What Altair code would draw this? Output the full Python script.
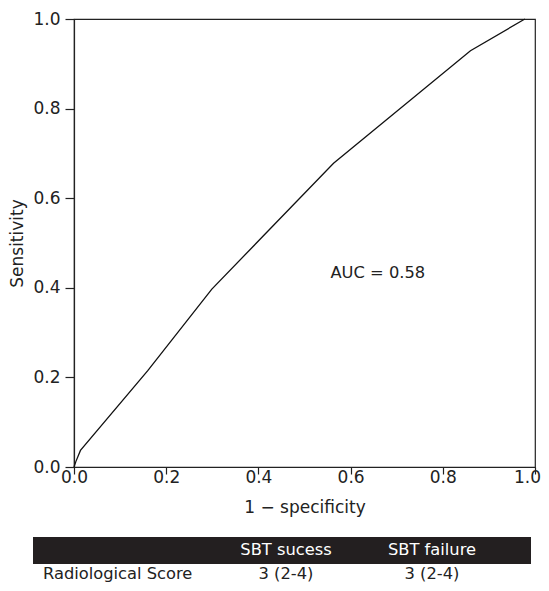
import altair as alt
import pandas as pd

# ROC curve points (1 - specificity, sensitivity)
fpr = [0.0, 0.004, 0.014, 0.16, 0.299, 0.563, 0.860, 0.978]
tpr = [0.0, 0.012, 0.037, 0.215, 0.397, 0.678, 0.929, 1.0]

auc_label = "AUC = 0.58"
auc_pos = [0.659, 0.432]

table_header = ["", "SBT sucess", "SBT failure"]
table_row = ["Radiological Score", "3 (2-4)", "3 (2-4)"]

FONT = "DejaVu Sans"
FS = 17
TFS = 16.3
INK = "#222222"

roc = pd.DataFrame({"fpr": fpr, "tpr": tpr, "order": list(range(len(fpr)))})

xscale = alt.Scale(domain=[0, 1], nice=False, zero=False)
yscale = alt.Scale(domain=[0, 1], nice=False, zero=False)

line = alt.Chart(roc).mark_line(color="#111111", strokeWidth=1.3).encode(
    x=alt.X("fpr:Q", scale=xscale, title="1 \u2212 specificity",
            axis=alt.Axis(values=[0, 0.2, 0.4, 0.6, 0.8, 1.0], format=".1f",
                          tickSize=7, labelPadding=-5, titlePadding=14,
                          labelOffset=alt.condition("datum.value >= 1", alt.value(-8), alt.value(0)),
                          grid=False)),
    y=alt.Y("tpr:Q", scale=yscale, title="Sensitivity",
            axis=alt.Axis(values=[0, 0.2, 0.4, 0.6, 0.8, 1.0], format=".1f",
                          tickSize=9, labelPadding=5, titlePadding=6,
                          grid=False)),
    order="order:Q",
)

auc = alt.Chart(pd.DataFrame({"x": [auc_pos[0]], "y": [auc_pos[1]], "t": [auc_label]})).mark_text(
    font=FONT, fontSize=TFS, color=INK, align="center", baseline="middle"
).encode(x=alt.X("x:Q", scale=xscale), y=alt.Y("y:Q", scale=yscale), text="t:N")

band = alt.Chart(pd.DataFrame({"a": [0]})).mark_rect(color="#231f20").encode(
    x=alt.value(-41), x2=alt.value(457), y=alt.value(518), y2=alt.value(545)
)

col_x = [-31, 212, 358]
layers = [line, auc, band]
for i, (h, r) in enumerate(zip(table_header, table_row)):
    al = "left" if i == 0 else "center"
    if h:
        layers.append(
            alt.Chart(pd.DataFrame({"t": [h]})).mark_text(
                font=FONT, fontSize=TFS, color="white", align=al, baseline="middle"
            ).encode(x=alt.value(col_x[i]), y=alt.value(531), text="t:N")
        )
    layers.append(
        alt.Chart(pd.DataFrame({"t": [r]})).mark_text(
            font=FONT, fontSize=TFS, color=INK, align=al, baseline="middle"
        ).encode(x=alt.value(col_x[i]), y=alt.value(555), text="t:N")
    )

chart = alt.layer(*layers).properties(
    width=461, height=448,
    autosize=alt.AutoSizeParams(type="none"),
    padding={"left": 66, "top": 11, "right": 6, "bottom": 115},
).configure_view(stroke=INK, strokeWidth=1.2).configure_axis(
    labelFont=FONT, titleFont=FONT, labelFontSize=FS, titleFontSize=FS,
    labelColor=INK, titleColor=INK, titleFontWeight="normal",
    domainColor=INK, tickColor=INK, domainWidth=1.2, tickWidth=1.2,
    labelFlush=False,
)

chart.save("out.html", embed_options={"renderer": "svg", "actions": False})
